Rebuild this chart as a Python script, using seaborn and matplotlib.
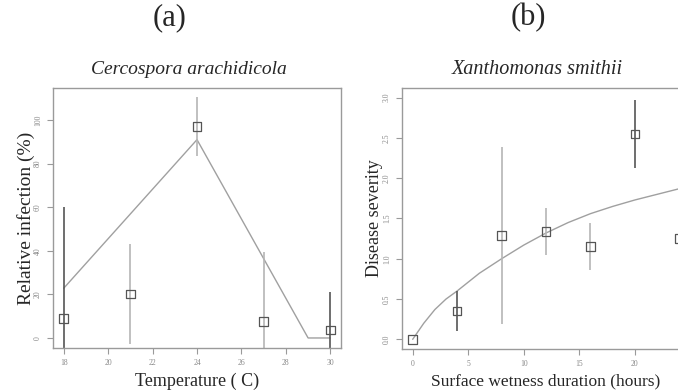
import matplotlib
matplotlib.use("Agg")
import matplotlib.pyplot as plt
import seaborn as sns
import pandas as pd

# ---- Panel (a) data: Cercospora arachidicola ----
temp = [18, 21, 24, 27, 30]
infection = [9, 20.2, 97.1, 7.5, 3.7]
infection_err = [51, 23, 13.6, 32, 17.5]
err_dark_a = [True, False, False, False, True]
fit_temp = [18, 24, 29, 30]
fit_infection = [22.8, 91.0, 0.0, 0.0]
xticks_a = [18, 20, 22, 24, 26, 28, 30]
yticks_a = [0, 20, 40, 60, 80, 100]

# ---- Panel (b) data: Xanthomonas smithii ----
hours = [0, 4, 8, 12, 16, 20, 24]
severity = [0.0, 0.35, 1.29, 1.34, 1.15, 2.55, 1.25]
severity_err = [0.0, 0.25, 1.1, 0.29, 0.29, 0.42, 0.73]
err_dark_b = [True, True, False, False, False, True, False]
fit_hours = [0, 1, 2, 3, 4, 6, 8, 10, 12, 14, 16, 18, 20, 22, 24]
fit_severity = [0.0, 0.2, 0.37, 0.5, 0.6, 0.82, 1.0, 1.17, 1.32, 1.45, 1.56, 1.65, 1.73, 1.80, 1.87]
xticks_b = [0, 5, 10, 15, 20]
yticks_b = [0.0, 0.5, 1.0, 1.5, 2.0, 2.5, 3.0]
yticklabels_b = ["0.0", "0.5", "1.0", "1.5", "2.0", "2.5", "3.0"]

sns.set_theme(style="white")
plt.rcParams["font.family"] = ["Liberation Serif", "DejaVu Serif"]

fig = plt.figure(figsize=(6.78, 3.92), dpi=100)
ax_a = fig.add_axes([53 / 678, 1 - 348 / 392, 288 / 678, 260 / 392])
ax_b = fig.add_axes([402 / 678, 1 - 349 / 392, 288 / 678, 261 / 392])

BOX = "#9a9a9a"
LINE = "#a0a0a0"
DARK = "#555555"
LIGHT = "#b5b5b5"
MARK = "#555555"


def style(ax):
    for s in ax.spines.values():
        s.set_color(BOX)
        s.set_linewidth(1.0)
    ax.tick_params(axis="both", which="both", direction="out", length=4,
                   width=0.8, color=BOX, labelsize=5.5, labelcolor="#888888",
                   bottom=True, left=True, top=False, right=False, pad=4)
    for lab in ax.get_yticklabels():
        lab.set_rotation(90)
        lab.set_va("center")
    ax.grid(False)


# Panel (a)
df_fit_a = pd.DataFrame({"x": fit_temp, "y": fit_infection})
sns.lineplot(data=df_fit_a, x="x", y="y", ax=ax_a, color=LINE, linewidth=1.0)
for x, y, e, d in zip(temp, infection, infection_err, err_dark_a):
    ax_a.vlines(x, y - e, y + e, color=DARK if d else LIGHT, linewidth=1.2, zorder=2)
df_a = pd.DataFrame({"x": temp, "y": infection})
sns.scatterplot(data=df_a, x="x", y="y", ax=ax_a, marker="s", s=38,
                facecolor="none", edgecolor=MARK, linewidth=0.9, zorder=3)
ax_a.set_xlim(17.52, 30.48)
ax_a.set_ylim(-4.6, 114.7)
ax_a.set_xticks(xticks_a)
ax_a.set_yticks(yticks_a)
ax_a.set_xlabel("Temperature ( C)", fontsize=13, labelpad=4)
ax_a.set_ylabel("Relative infection (%)", fontsize=14, labelpad=-1)
style(ax_a)

# Panel (b)
df_fit_b = pd.DataFrame({"x": fit_hours, "y": fit_severity})
sns.lineplot(data=df_fit_b, x="x", y="y", ax=ax_b, color=LINE, linewidth=1.0)
for x, y, e, d in zip(hours, severity, severity_err, err_dark_b):
    if e > 0:
        ax_b.vlines(x, y - e, y + e, color=DARK if d else LIGHT, linewidth=1.2, zorder=2)
df_b = pd.DataFrame({"x": hours, "y": severity})
sns.scatterplot(data=df_b, x="x", y="y", ax=ax_b, marker="s", s=38,
                facecolor="none", edgecolor=MARK, linewidth=0.9, zorder=3)
ax_b.set_xlim(-0.96, 24.96)
ax_b.set_ylim(-0.12, 3.12)
ax_b.set_xticks(xticks_b)
ax_b.set_yticks(yticks_b)
ax_b.set_yticklabels(yticklabels_b)
ax_b.set_xlabel("Surface wetness duration (hours)", fontsize=12.5, labelpad=4)
ax_b.set_ylabel("Disease severity", fontsize=13, labelpad=0)
style(ax_b)

# Titles
fig.text(170 / 678, 1 - 18 / 392, "(a)", ha="center", va="center", fontsize=22)
fig.text(528 / 678, 1 - 18 / 392, "(b)", ha="center", va="center", fontsize=22)
fig.text(189 / 678, 1 - 70 / 392, "Cercospora arachidicola", ha="center",
         va="center", fontsize=14, style="italic")
fig.text(537 / 678, 1 - 70 / 392, "Xanthomonas smithii", ha="center",
         va="center", fontsize=14.5, style="italic")

fig.savefig("out.png", dpi=100)
